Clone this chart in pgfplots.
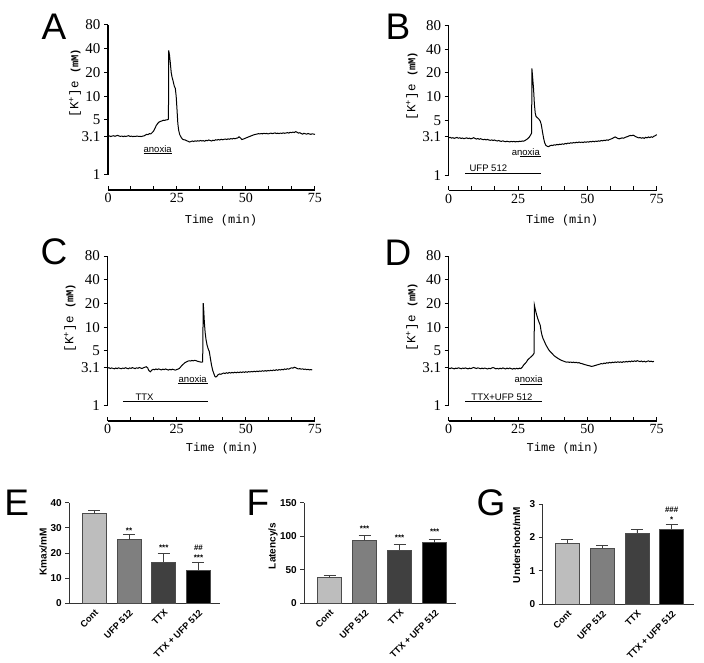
\documentclass[border=0pt]{standalone}
\usepackage{fontspec}
\setmainfont{Liberation Serif}
\setsansfont{Liberation Sans}
\setmonofont{Liberation Mono}
\usepackage{pgfplots}
\pgfplotsset{compat=1.18}
\definecolor{gA}{HTML}{BDBDBD}
\definecolor{gB}{HTML}{7F7F7F}
\definecolor{gC}{HTML}{404040}
\pgfplotsset{
 kaxis/.style={
   scale only axis, width=207pt, height=165pt,
   xmin=0, xmax=75, ymin=0.645, ymax=80,
   axis x line=bottom, axis y line=left, axis line style={-}, clip=false,
   y axis line style={draw=none},
   x axis line style={line width=1.4pt},
   xtick={0,25,50,75}, xticklabels={0,25,50,75}, minor x tick num=2,
   xtick align=inside, ytick align=outside,
   ytick={1,3.1,5,10,20,40,80}, yticklabels={1,3.1,5,10,20,40,80},
   yminorticks=false,
   major tick length=4pt, minor tick length=4pt,
   tick style={black, line width=1pt},
   x tick label style={font=\fontsize{14}{14}\selectfont\rmfamily},
   y tick label style={font=\fontsize{15}{15}\selectfont\rmfamily},
 },
 kline/.style={black, line width=1pt},
 kbar/.style={
   scale only axis, height=100.6pt, ymin=0,
   axis x line=bottom, axis y line=left, axis line style={-, line width=0.8pt, black!80},
   xtick={0,1,2,3}, xticklabels={Cont,UFP 512,TTX,TTX + UFP 512},
   x tick style={draw=none},
   ytick align=outside, major tick length=4pt, y tick style={line width=0.8pt, black!80},
   x tick label style={rotate=45, anchor=north east, font=\sffamily\bfseries\fontsize{9.2}{9.5}\selectfont, inner sep=1pt},
   y tick label style={font=\sffamily\bfseries\fontsize{10}{10}\selectfont},
   /pgf/number format/assume math mode=true,
   clip=false, ybar, bar width=24pt,
 },
 kerr/.style={bar shift=0pt, draw=black!70, line width=0.6pt,
   error bars/y dir=plus, error bars/y explicit,
   error bars/error bar style={line width=0.8pt,black!75},
   error bars/error mark options={rotate=90,mark size=6pt,line width=0.8pt,black!75}},
}
\tikzset{kstar/.style={font=\sffamily\bfseries\fontsize{8}{8}\selectfont, anchor=base, inner sep=0pt},
 kann/.style={font=\sffamily\fontsize{9.5}{10}\selectfont, inner sep=0pt}}
\newcommand\ylab{\ttfamily\fontsize{12.5}{12}\selectfont[K\textsuperscript{+}]e {\bfseries\fontsize{10.5}{10}\selectfont(mM)}}
\newcommand\tlab{\ttfamily\fontsize{12}{12}\selectfont Time (min)}
\begin{document}
\begin{tikzpicture}
\useasboundingbox (0,0) rectangle (704pt,662pt);
% ---------------- A
\begin{axis}[ymode=log, kaxis, at={(108pt,472pt)}, anchor=south west]
\draw[line width=1.2pt] (axis cs:0,1) -- (axis cs:0,80);
\addplot[kline] coordinates {(0,3.10) (0.5,3.13) (1,3.08) (1.5,3.12) (2,3.15) (2.5,3.10) (3,3.14) (3.5,3.18) (4,3.12) (4.5,3.09) (5,3.12) (5.5,3.07) (6,3.11) (6.5,3.08) (7,3.12) (7.5,3.15) (8,3.09) (8.5,3.11) (9,3.07) (9.5,3.10) (10,3.08) (10.5,3.12) (11,3.09) (11.5,3.10) (12,3.07) (12.5,3.11) (13,3.13) (13.5,3.20) (14,3.28) (14.5,3.25) (15,3.35) (15.5,3.32) (16,3.45) (16.5,3.60) (17,3.90) (17.5,4.25) (18,4.50) (18.5,4.70) (19,4.78) (19.5,4.85) (20,4.95) (20.5,4.92) (21,5.00) (21.5,5.02) (21.9,5.10) (22.0,38.0) (22.3,33) (22.6,26) (22.9,20) (23.2,17.5) (23.6,15.5) (24.0,13.5) (24.4,12.5) (24.7,10) (25.0,6.8) (25.3,4.5) (25.6,3.7) (26,3.25) (26.5,3.0) (27,2.85) (27.5,2.80) (28,2.78) (28.5,2.72) (29,2.68) (29.5,2.62) (30,2.65) (30.5,2.70) (31,2.66) (31.5,2.71) (32,2.68) (32.5,2.72) (33,2.69) (33.5,2.74) (34,2.70) (34.5,2.73) (35,2.68) (35.5,2.75) (36,2.72) (36.5,2.78) (37,2.74) (37.5,2.70) (38,2.76) (38.5,2.73) (39,2.80) (39.5,2.77) (40,2.82) (40.5,2.78) (41,2.84) (41.5,2.80) (42,2.83) (42.5,2.86) (43,2.82) (43.5,2.87) (44,2.84) (44.5,2.90) (45,2.86) (45.5,2.92) (46,2.88) (46.5,2.93) (47,2.95) (47.5,3.05) (48,2.95) (48.5,2.82) (49,2.85) (49.5,2.90) (50,2.95) (50.5,3.00) (51,3.05) (51.5,3.10) (52,3.15) (52.5,3.20) (53,3.25) (53.5,3.28) (54,3.30) (54.5,3.35) (55,3.32) (55.5,3.36) (56,3.33) (56.5,3.38) (57,3.34) (57.5,3.37) (58,3.32) (58.5,3.36) (59,3.40) (59.5,3.35) (60,3.38) (60.5,3.42) (61,3.36) (61.5,3.39) (62,3.35) (62.5,3.40) (63,3.37) (63.5,3.42) (64,3.38) (64.5,3.41) (65,3.45) (65.5,3.40) (66,3.48) (66.5,3.44) (67,3.50) (67.5,3.46) (68,3.55) (68.5,3.48) (69,3.40) (69.5,3.44) (70,3.36) (70.5,3.30) (71,3.38) (71.5,3.33) (72,3.30) (72.5,3.36) (73,3.31) (73.5,3.28) (74,3.33) (74.5,3.30) (75,3.28)};
\addplot[kline] coordinates {(12.9,1.865) (23.1,1.865)};
\node[kann] at (axis cs:18,2.16) {anoxia};
\end{axis}
% ---------------- B
\begin{axis}[ymode=log, kaxis, at={(448.7pt,471.5pt)}, anchor=south west, width=208pt]
\draw[line width=1.2pt] (axis cs:0,1) -- (axis cs:0,80);
\addplot[kline] coordinates {(0,3.00) (0.5,3.05) (1,2.98) (1.5,3.02) (2,2.96) (2.5,3.00) (3,3.04) (3.5,2.97) (4,3.01) (4.5,2.95) (5,2.99) (5.5,2.93) (6,2.97) (6.5,3.00) (7,2.94) (7.5,2.98) (8,2.92) (8.5,2.96) (9,3.02) (9.5,2.95) (10,2.90) (10.5,2.94) (11,2.88) (11.5,2.93) (12,2.88) (12.5,2.84) (13,2.88) (13.5,2.83) (14,2.87) (14.5,2.82) (15,2.79) (15.5,2.83) (16,2.78) (16.5,2.82) (17,2.77) (17.5,2.74) (18,2.78) (18.5,2.73) (19,2.71) (19.5,2.75) (20,2.71) (20.5,2.68) (21,2.72) (21.5,2.69) (22,2.67) (22.5,2.71) (23,2.68) (23.5,2.71) (24,2.67) (24.5,2.70) (25,2.68) (25.5,2.72) (26,2.70) (26.5,2.74) (27,2.72) (27.5,2.78) (28,2.85) (28.5,2.93) (29,3.05) (29.5,3.25) (29.9,3.45) (30.0,22.8) (30.3,17) (30.6,12.5) (30.9,8) (31.2,6.2) (31.5,5.6) (32,5.4) (32.5,5.2) (33,4.9) (33.4,4.4) (33.8,3.6) (34.2,3.0) (34.6,2.6) (35,2.42) (35.5,2.35) (36,2.32) (36.5,2.38) (37,2.42) (37.5,2.40) (38,2.45) (38.5,2.43) (39,2.48) (39.5,2.45) (40,2.50) (40.5,2.47) (41,2.52) (41.5,2.49) (42,2.55) (42.5,2.52) (43,2.58) (43.5,2.55) (44,2.60) (44.5,2.57) (45,2.62) (45.5,2.59) (46,2.64) (46.5,2.61) (47,2.66) (47.5,2.62) (48,2.65) (48.5,2.62) (49,2.67) (49.5,2.64) (50,2.68) (50.5,2.65) (51,2.70) (51.5,2.67) (52,2.72) (52.5,2.68) (53,2.73) (53.5,2.70) (54,2.75) (54.5,2.72) (55,2.78) (55.5,2.75) (56,2.80) (56.5,2.77) (57,2.83) (57.5,2.80) (58,2.86) (58.5,2.90) (59,2.95) (59.5,3.02) (60,3.08) (60.5,3.02) (61,2.95) (61.5,2.92) (62,2.96) (62.5,3.00) (63,2.97) (63.5,3.03) (64,3.08) (64.5,3.12) (65,3.18) (65.5,3.22) (66,3.20) (66.5,3.25) (67,3.18) (67.5,3.10) (68,3.05) (68.5,3.00) (69,3.03) (69.5,2.97) (70,3.02) (70.5,2.96) (71,3.05) (71.5,3.00) (72,3.08) (72.5,3.02) (73,3.10) (73.5,3.05) (74,3.15) (74.5,3.20) (75,3.30)};
\addplot[kline] coordinates {(25.7,1.756) (33.3,1.756)};
\addplot[kline] coordinates {(6.0,1.06) (33.3,1.06)};
\node[kann] at (axis cs:27.8,1.976) {anoxia};
\node[kann] at (axis cs:14.3,1.23) {UFP 512};
\end{axis}
% ---------------- C
\begin{axis}[ymode=log, kaxis, at={(107.5pt,241pt)}, anchor=south west, width=207.5pt]
\draw[line width=1.2pt] (axis cs:0,1) -- (axis cs:0,80);
\addplot[kline] coordinates {(0,3.02) (0.5,3.06) (1,2.99) (1.5,3.04) (2,3.00) (2.5,2.96) (3,3.03) (3.5,2.98) (4,3.05) (4.5,3.00) (5,2.97) (5.5,3.03) (6,2.99) (6.5,3.06) (7,3.01) (7.5,2.97) (8,3.04) (8.5,3.00) (9,3.07) (9.5,3.02) (10,2.98) (10.5,3.05) (11,3.01) (11.5,3.08) (12,3.03) (12.5,2.99) (13,3.06) (13.5,3.10) (14,3.15) (14.5,3.05) (15,2.80) (15.5,2.72) (16,2.85) (16.5,2.92) (17,2.88) (17.5,2.95) (18,2.90) (18.5,2.96) (19,2.91) (19.5,2.87) (20,2.93) (20.5,2.89) (21,2.95) (21.5,2.90) (22,2.86) (22.5,2.92) (23,2.88) (23.5,2.93) (24,2.89) (24.5,2.85) (25,2.90) (25.5,2.94) (26,3.00) (26.5,3.15) (27,3.30) (27.5,3.42) (28,3.55) (28.5,3.62) (29,3.70) (29.5,3.75) (30,3.72) (30.5,3.78) (31,3.74) (31.5,3.80) (32,3.76) (32.5,3.70) (33,3.66) (33.5,3.62) (34,3.60) (34.4,3.62) (34.6,20.2) (34.8,16) (35.0,11.7) (35.3,8.5) (35.6,7.0) (36.0,5.9) (36.4,5.3) (36.8,4.9) (37.2,4.0) (37.6,3.3) (38.0,2.85) (38.4,2.60) (38.8,2.38) (39.2,2.33) (39.6,2.40) (40,2.50) (40.5,2.55) (41,2.52) (41.5,2.58) (42,2.62) (42.5,2.58) (43,2.64) (43.5,2.60) (44,2.66) (44.5,2.62) (45,2.67) (45.5,2.63) (46,2.68) (46.5,2.64) (47,2.69) (47.5,2.65) (48,2.70) (48.5,2.66) (49,2.71) (49.5,2.67) (50,2.72) (50.5,2.68) (51,2.73) (51.5,2.70) (52,2.74) (52.5,2.71) (53,2.76) (53.5,2.72) (54,2.77) (54.5,2.73) (55,2.78) (55.5,2.75) (56,2.80) (56.5,2.76) (57,2.81) (57.5,2.77) (58,2.82) (58.5,2.79) (59,2.84) (59.5,2.80) (60,2.86) (60.5,2.82) (61,2.88) (61.5,2.84) (62,2.90) (62.5,2.86) (63,2.92) (63.5,2.88) (64,2.95) (64.5,2.91) (65,2.97) (65.5,2.93) (66,3.00) (66.5,3.05) (67,3.02) (67.5,3.10) (68,3.06) (68.5,3.00) (69,2.95) (69.5,2.98) (70,2.93) (70.5,2.96) (71,2.91) (71.5,2.94) (72,2.89) (72.5,2.92) (73,2.87) (73.5,2.90) (74,2.86)};
\addplot[kline] coordinates {(25.6,1.916) (36.2,1.916)};
\addplot[kline] coordinates {(5.6,1.137) (36.2,1.137)};
\node[kann] at (axis cs:30.8,2.2) {anoxia};
\node[kann] at (axis cs:13.4,1.28) {TTX};
\end{axis}
% ---------------- D
\begin{axis}[ymode=log, kaxis, at={(448.7pt,241pt)}, anchor=south west, width=208pt]
\draw[line width=1.2pt] (axis cs:0,1) -- (axis cs:0,80);
\addplot[kline] coordinates {(0,3.02) (0.5,2.98) (1,3.04) (1.5,3.00) (2,2.96) (2.5,3.02) (3,2.99) (3.5,3.05) (4,3.01) (4.5,2.97) (5,3.03) (5.5,2.99) (6,3.04) (6.5,3.00) (7,2.96) (7.5,3.02) (8,2.98) (8.5,3.04) (9,3.08) (9.5,3.03) (10,2.99) (10.5,3.05) (11,3.01) (11.5,2.97) (12,3.02) (12.5,2.98) (13,3.03) (13.5,2.99) (14,2.95) (14.5,3.01) (15,2.97) (15.5,3.03) (16,3.08) (16.5,3.02) (17,2.96) (17.5,3.00) (18,2.95) (18.5,3.01) (19,2.97) (19.5,3.04) (20,3.00) (20.5,2.95) (21,3.02) (21.5,2.97) (22,3.03) (22.5,2.98) (23,2.94) (23.5,3.00) (24,2.95) (24.5,3.01) (25,2.96) (25.5,3.02) (26,2.98) (26.5,3.10) (27,3.30) (27.5,3.45) (28,3.60) (28.5,3.85) (29,4.00) (29.5,4.15) (30,4.30) (30.5,4.50) (30.8,4.70) (30.9,19.0) (31.2,17.0) (31.5,15.3) (31.8,14.0) (32.2,12.6) (32.6,11.5) (33.0,10.6) (33.3,9.0) (33.6,8.0) (34.0,7.2) (34.5,6.6) (35,6.0) (35.5,5.6) (36,5.2) (36.5,4.95) (37,4.75) (37.5,4.55) (38,4.35) (38.5,4.22) (39,4.10) (39.5,4.00) (40,3.90) (40.5,3.82) (41,3.75) (41.5,3.70) (42,3.64) (42.5,3.60) (43,3.62) (43.5,3.58) (44,3.61) (44.5,3.56) (45,3.60) (45.5,3.55) (46,3.58) (46.5,3.52) (47,3.55) (47.5,3.48) (48,3.45) (48.5,3.40) (49,3.36) (49.5,3.32) (50,3.28) (50.5,3.25) (51,3.22) (51.5,3.18) (52,3.20) (52.5,3.24) (53,3.28) (53.5,3.32) (54,3.36) (54.5,3.40) (55,3.45) (55.5,3.42) (56,3.50) (56.5,3.46) (57,3.54) (57.5,3.50) (58,3.58) (58.5,3.52) (59,3.60) (59.5,3.55) (60,3.62) (60.5,3.57) (61,3.64) (61.5,3.58) (62,3.63) (62.5,3.57) (63,3.65) (63.5,3.60) (64,3.68) (64.5,3.62) (65,3.70) (65.5,3.64) (66,3.72) (66.5,3.66) (67,3.74) (67.5,3.68) (68,3.76) (68.5,3.70) (69,3.66) (69.5,3.72) (70,3.64) (70.5,3.70) (71,3.62) (71.5,3.68) (72,3.74) (72.5,3.66) (73,3.70) (73.5,3.64) (74,3.68)};
\addplot[kline] coordinates {(25.8,1.897) (33.8,1.897)};
\addplot[kline] coordinates {(6.0,1.125) (33.8,1.125)};
\node[kann] at (axis cs:28.8,2.2) {anoxia};
\node[kann] at (axis cs:19.2,1.305) {TTX+UFP 512};
\end{axis}
% ---------------- E
\begin{axis}[kbar, at={(69.3pt,58.7pt)}, anchor=south west, width=150.7pt,
  xmin=-0.72, xmax=3.62, ymax=40, ytick={0,10,20,30,40}]
\addplot[fill=gA, kerr] coordinates {(0,35.6) +- (0,1.4)};
\addplot[fill=gB, kerr] coordinates {(1,25.3) +- (0,2.1)};
\addplot[fill=gC, kerr] coordinates {(2,16.5) +- (0,3.4)};
\addplot[fill=black, kerr] coordinates {(3,13.2) +- (0,3.2)};
\node[kstar] at (axis cs:1,27.7) {**};
\node[kstar] at (axis cs:2,21.1) {***};
\node[kstar] at (axis cs:3,17.1) {***};
\node[kstar] at (axis cs:3,21.0) {\#\#};
\end{axis}
% ---------------- F
\begin{axis}[kbar, at={(304.3pt,58.7pt)}, anchor=south west, width=151.4pt,
  xmin=-0.72, xmax=3.6, ymax=150, ytick={0,50,100,150}]
\addplot[fill=gA, kerr] coordinates {(0,38.2) +- (0,3.5)};
\addplot[fill=gB, kerr] coordinates {(1,94.3) +- (0,7.5)};
\addplot[fill=gC, kerr] coordinates {(2,79.4) +- (0,7.9)};
\addplot[fill=black, kerr] coordinates {(3,90.3) +- (0,5.5)};
\node[kstar] at (axis cs:1,107.3) {***};
\node[kstar] at (axis cs:2,93.4) {***};
\node[kstar] at (axis cs:3,101.9) {***};
\end{axis}
% ---------------- G
\begin{axis}[kbar, at={(542.7pt,57.7pt)}, anchor=south west, width=151.6pt, height=100.3pt,
  xmin=-0.71, xmax=3.65, ymax=3, ytick={0,1,2,3}]
\addplot[fill=gA, kerr] coordinates {(0,1.83) +- (0,0.10)};
\addplot[fill=gB, kerr] coordinates {(1,1.69) +- (0,0.08)};
\addplot[fill=gC, kerr] coordinates {(2,2.13) +- (0,0.12)};
\addplot[fill=black, kerr] coordinates {(3,2.25) +- (0,0.15)};
\node[kstar] at (axis cs:3,2.435) {*};
\node[kstar] at (axis cs:3,2.74) {\#\#\#};
\end{axis}
% ---------------- labels
\node[rotate=90] at (75pt,579pt) {\ylab};
\node[rotate=90] at (412pt,576pt) {\ylab};
\node[rotate=90] at (70pt,344pt) {\ylab};
\node[rotate=90] at (412pt,345pt) {\ylab};
\node at (221pt,442pt) {\tlab};
\node at (562pt,442pt) {\tlab};
\node at (222pt,214pt) {\tlab};
\node at (562.7pt,214pt) {\tlab};
\begin{scope}[every node/.style={font=\sffamily\bfseries\fontsize{10}{10}\selectfont, rotate=90}]
\node at (43pt,110.3pt) {Kmax/mM};
\node at (273pt,116pt) {Latency/s};
\node at (516.7pt,117pt) {Undershoot/mM};
\end{scope}
\begin{scope}[every node/.style={font=\sffamily\fontsize{37}{37}\selectfont, inner sep=0pt}]
\node at (54pt,635pt) {A};
\node at (398pt,635pt) {B};
\node at (54pt,410pt) {C};
\node at (398pt,409pt) {D};
\node at (16.7pt,159.5pt) {E};
\node at (258pt,159.5pt) {F};
\node at (491pt,159pt) {G};
\end{scope}
\end{tikzpicture}
\end{document}
